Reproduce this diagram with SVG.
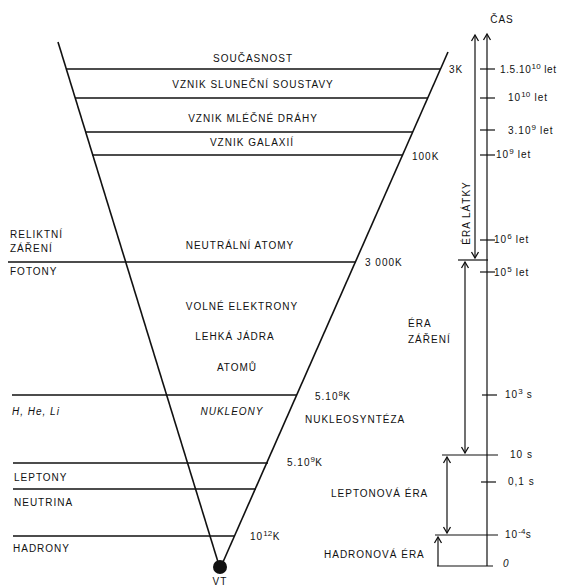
<svg xmlns="http://www.w3.org/2000/svg" width="566" height="588" viewBox="0 0 566 588">
<defs>
<style>
text{font-family:"Liberation Sans",Arial,sans-serif;font-size:10px;fill:#111;letter-spacing:1px}
.m{text-anchor:middle}
.i{font-style:italic}
.ln{stroke:#111;stroke-width:1.6;fill:none}
.th{stroke:#111;stroke-width:1.2;fill:none}
.sup{font-size:8px;letter-spacing:0.3px}
</style>
<marker id="ah" viewBox="-8 -5 10 10" markerWidth="10" markerHeight="10" refX="0" refY="0" orient="auto-start-reverse" markerUnits="userSpaceOnUse">
<path d="M-6,-3.5 L0,0 L-6,3.5" fill="none" stroke="#111" stroke-width="1.3"/>
</marker>
</defs>
<rect width="566" height="588" fill="#fff"/>

<g id="cone">
<line class="ln" x1="58" y1="42" x2="218" y2="562"/>
<line class="ln" x1="448" y1="52" x2="223" y2="562"/>
<circle cx="220" cy="567" r="7" fill="#111"/>
<line class="ln" x1="66" y1="69" x2="441" y2="69" stroke-width="2"/>
<line class="ln" x1="75" y1="98" x2="428" y2="98"/>
<line class="ln" x1="86" y1="132" x2="413" y2="132"/>
<line class="ln" x1="92" y1="155" x2="403" y2="155"/>
<line class="ln" x1="8" y1="262" x2="356" y2="262"/>
<line class="ln" x1="12" y1="395" x2="297" y2="395"/>
<line class="ln" x1="13" y1="463" x2="268" y2="463"/>
<line class="ln" x1="13" y1="489" x2="256" y2="489"/>
<line class="ln" x1="13" y1="536" x2="234" y2="536"/>
</g>

<g id="inside-labels">
<text class="m" x="253" y="62">SOUČASNOST</text>
<text class="m" x="253" y="88">VZNIK SLUNEČNÍ SOUSTAVY</text>
<text class="m" x="253" y="122">VZNIK MLÉČNÉ DRÁHY</text>
<text class="m" x="252" y="146">VZNIK GALAXIÍ</text>
<text class="m" x="240" y="249">NEUTRÁLNÍ ATOMY</text>
<text class="m" x="242" y="310">VOLNÉ ELEKTRONY</text>
<text class="m" x="235" y="340">LEHKÁ JÁDRA</text>
<text class="m" x="237" y="371">ATOMŮ</text>
<text class="m i" x="232" y="415">NUKLEONY</text>
<text class="m" x="220" y="585">VT</text>
</g>

<g id="left-labels">
<text x="10" y="238">RELIKTNÍ</text>
<text x="10" y="252">ZÁŘENÍ</text>
<text x="10" y="275">FOTONY</text>
<text class="i" x="12" y="415">H, He, Li</text>
<text x="14" y="481">LEPTONY</text>
<text x="14" y="506">NEUTRINA</text>
<text x="13" y="552">HADRONY</text>
</g>

<g id="temperatures">
<text x="449" y="73">3K</text>
<text x="412" y="160">100K</text>
<text x="365" y="266">3 000K</text>
<text x="315" y="400">5.10<tspan class="sup" dy="-4">8</tspan><tspan dy="4">K</tspan></text>
<text x="305" y="423">NUKLEOSYNTÉZA</text>
<text x="287" y="466">5.10<tspan class="sup" dy="-4">9</tspan><tspan dy="4">K</tspan></text>
<text x="250" y="540">10<tspan class="sup" dy="-4">12</tspan><tspan dy="4">K</tspan></text>
<text x="331" y="497">LEPTONOVÁ ÉRA</text>
<text x="324" y="558">HADRONOVÁ ÉRA</text>
</g>

<g id="connectors">
<line class="th" x1="487" y1="566" x2="487" y2="34" marker-end="url(#ah)"/>
<line class="th" x1="475" y1="35" x2="475" y2="258" marker-start="url(#ah)" marker-end="url(#ah)"/>
<line class="th" x1="458" y1="260" x2="488" y2="260" stroke-width="1.6"/>
<line class="th" x1="465" y1="262" x2="465" y2="453" marker-start="url(#ah)" marker-end="url(#ah)"/>
<line class="th" x1="442" y1="455" x2="498" y2="455" stroke-width="1.6"/>
<line class="th" x1="447" y1="457" x2="447" y2="533" marker-start="url(#ah)" marker-end="url(#ah)"/>
<line class="th" x1="435" y1="535" x2="498" y2="535" stroke-width="1.6"/>
<line class="th" x1="438" y1="566" x2="438" y2="537" marker-end="url(#ah)"/>
<line class="th" x1="437" y1="566" x2="493" y2="566" stroke-width="1.6"/>
<line class="th" x1="480" y1="69" x2="495" y2="69"/>
<line class="th" x1="480" y1="98" x2="495" y2="98"/>
<line class="th" x1="480" y1="130" x2="495" y2="130" stroke-width="1.8"/>
<line class="th" x1="480" y1="155" x2="495" y2="155"/>
<line class="th" x1="480" y1="240" x2="495" y2="240"/>
<line class="th" x1="480" y1="272" x2="495" y2="272"/>
<line class="th" x1="482" y1="395" x2="497" y2="395"/>
<line class="th" x1="481" y1="482" x2="496" y2="482"/>
</g>

<g id="time-axis">
<text class="m" x="502" y="23">ČAS</text>
<text x="500" y="73" style="letter-spacing:0.6px">1.5.10<tspan class="sup" dy="-4">10</tspan><tspan dy="4"> let</tspan></text>
<text x="508" y="101">10<tspan class="sup" dy="-4">10</tspan><tspan dy="4"> let</tspan></text>
<text x="508" y="134">3.10<tspan class="sup" dy="-4">9</tspan><tspan dy="4"> let</tspan></text>
<text x="496" y="158">10<tspan class="sup" dy="-4">9</tspan><tspan dy="4"> let</tspan></text>
<text x="494" y="243">10<tspan class="sup" dy="-4">6</tspan><tspan dy="4"> let</tspan></text>
<text x="494" y="276">10<tspan class="sup" dy="-4">5</tspan><tspan dy="4"> let</tspan></text>
<text x="505" y="398">10<tspan class="sup" dy="-4">3</tspan><tspan dy="4"> s</tspan></text>
<text x="510" y="458">10 s</text>
<text x="508" y="485">0,1 s</text>
<text x="505" y="538">10<tspan class="sup" dy="-4">-4</tspan><tspan dy="4">s</tspan></text>
<text class="i" x="503" y="567">0</text>
<text class="m" transform="translate(470,213) rotate(-90)">ÉRA LÁTKY</text>
<text x="408" y="327">ÉRA</text>
<text x="408" y="343">ZÁŘENÍ</text>
</g>
</svg>
